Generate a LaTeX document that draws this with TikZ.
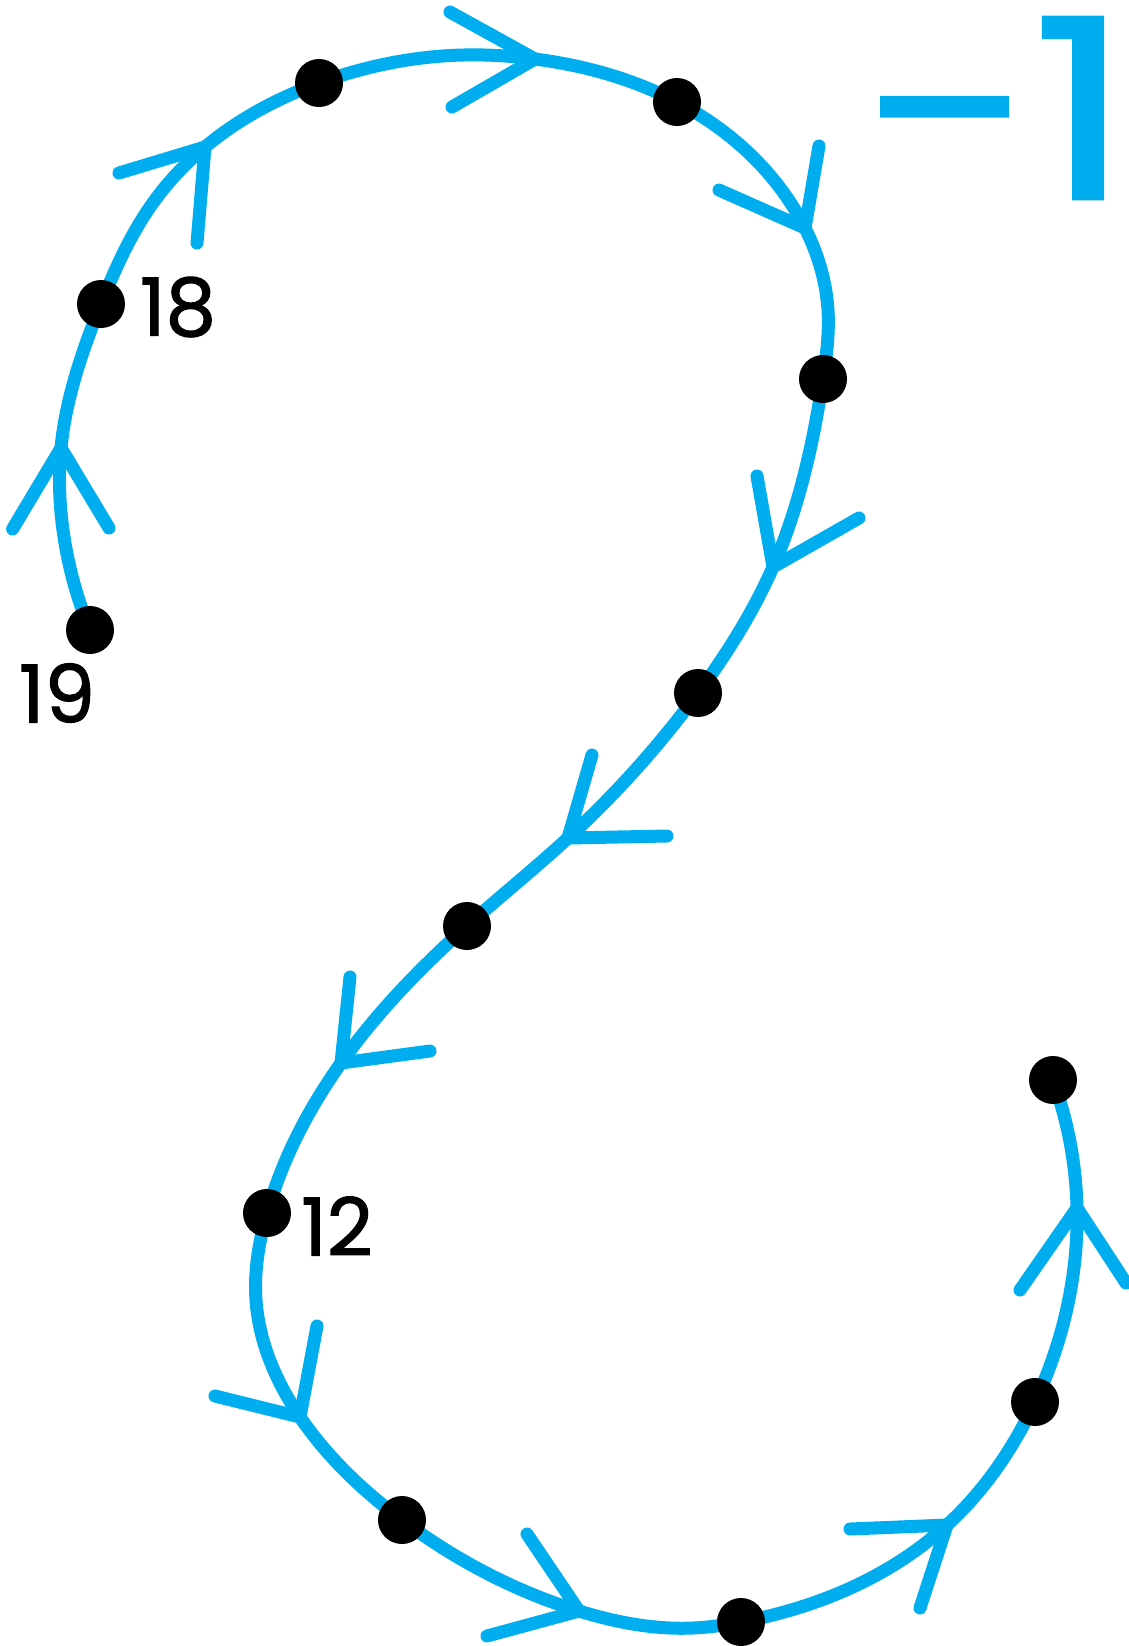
\documentclass[tikz,border=0pt]{standalone}
\usepackage{fontspec}
\usetikzlibrary{hobby}
\newfontfamily\labelfont[FakeBold=1.5]{Poppins}
\newfontfamily\windfont[FakeBold=1]{Poppins}
\definecolor{loopblue}{RGB}{0,174,239}
\begin{document}
\begin{tikzpicture}[x=0.5pt,y=-0.5pt,
  curve/.style={draw=loopblue, line width=6.5pt, line cap=round, line join=round},
  chevron/.style={curve},
  dot/.style={circle, fill=black, minimum size=24pt, inner sep=0pt},
  num/.style={font=\labelfont\fontsize{40}{40}\selectfont, text=black, inner sep=0pt},
  bignum/.style={font=\windfont\fontsize{126}{126}\selectfont, text=loopblue, inner sep=0pt}]
\useasboundingbox (0,0) rectangle (1129,1646);

% vertices of the path, in order of travel
\coordinate (p19) at (90,630);
\coordinate (p18) at (101,304);
\coordinate (p3)  at (319,83);
\coordinate (p4)  at (677,102);
\coordinate (p5)  at (823,379);
\coordinate (p6)  at (698,693);
\coordinate (p7)  at (467,926);
\coordinate (p12) at (267,1213);
\coordinate (p9)  at (402,1520);
\coordinate (p10) at (741,1622);
\coordinate (p11) at (1035,1402);
\coordinate (pend) at (1053,1080);

% tips of the direction marks
\coordinate (t1)  at (61,448);
\coordinate (t2)  at (205,147);
\coordinate (t3)  at (535,59);
\coordinate (t4)  at (805,228);
\coordinate (t5)  at (773,567);
\coordinate (t6)  at (568,838);
\coordinate (t7)  at (341,1063);
\coordinate (t8)  at (300,1417);
\coordinate (t9)  at (579,1611);
\coordinate (t10) at (947,1525);
\coordinate (t11) at (1077,1208);

% the path itself
\draw[curve, use Hobby shortcut] (p19) .. (63,530) .. (t1) .. (p18) .. (150,207)
  .. (t2) .. (p3) .. (463,55) .. (t3) .. (p4) .. (t4) .. (828,310) .. (p5)
  .. (t5) .. (p6) .. (t6) .. (p7) .. (t7) .. (p12) .. (256,1300) .. (t8)
  .. (p9) .. (t9) .. (693,1628) .. (p10) .. (t10) .. (p11) .. (t11) .. (pend);

% direction marks
\draw[chevron] (12.6,529) -- (t1) -- (109,528);
\draw[chevron] (119,173) -- (t2) -- (197,243);
\draw[chevron] (450,12) -- (t3) -- (452,107);
\draw[chevron] (719,190) -- (t4) -- (819,146);
\draw[chevron] (757,476) -- (t5) -- (859,518);
\draw[chevron] (592,755) -- (t6) -- (667,836);
\draw[chevron] (350,977) -- (t7) -- (430,1051);
\draw[chevron] (215,1396) -- (t8) -- (317,1326);
\draw[chevron] (487,1636) -- (t9) -- (527,1534);
\draw[chevron] (850,1529) -- (t10) -- (920,1608);
\draw[chevron] (1020,1290) -- (t11) -- (1126,1283);

% vertices
\foreach \p in {p19,p18,p3,p4,p5,p6,p7,p12,p9,p10,p11,pend}
  \node[dot] (d\p) at (\p) {};

% labels
\node[num] (l18) at (178,307) {18};
\node[num] (l19) at (57,693) {19};
\node[num] (l12) at (337,1226) {12};
\node[bignum] (wind) at (995,108) {\scalebox{1.25}[1]{−1}};
\end{tikzpicture}
\end{document}
